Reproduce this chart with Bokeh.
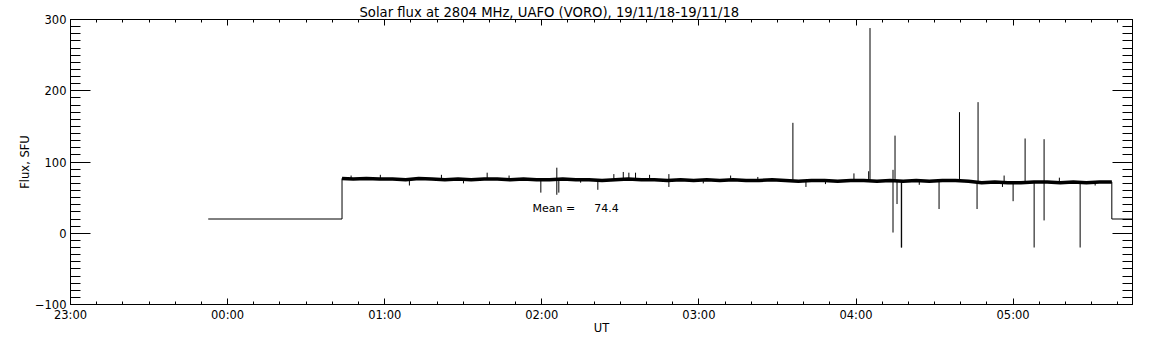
import pandas as pd
from bokeh.plotting import figure
from bokeh.models import (Range1d, FixedTicker, DatetimeTickFormatter, LinearAxis,
                          DatetimeAxis, CustomJSTickFormatter, Label, ColumnDataSource, Title)
from bokeh.embed import file_html
from bokeh.resources import INLINE

# ---------------- data ----------------
TITLE = "Solar flux at 2804 MHz, UAFO (VORO),  19/11/18-19/11/18"
X_LABEL = "UT"
Y_LABEL = "Flux, SFU"
X_START = "23:00:00"
X_END = "05:45:36"
X_TICKS = ["23:00", "00:00", "01:00", "02:00", "03:00", "04:00", "05:00"]
Y_TICKS = [-100, 0, 100, 200, 300]
MEAN_WORD = "Mean ="
MEAN_VALUE = "74.4"

trace_times = [
    "23:52:36", "00:43:42", "00:43:42", "00:48", "00:53", "00:58", "01:03", "01:08",
    "01:13", "01:18", "01:23", "01:28", "01:33", "01:38", "01:43", "01:48", "01:53",
    "01:58", "02:03", "02:08", "02:13", "02:18", "02:23", "02:28", "02:33", "02:38",
    "02:43", "02:48", "02:53", "02:58", "03:03", "03:08", "03:13", "03:18", "03:23",
    "03:28", "03:33", "03:38", "03:43", "03:48", "03:53", "03:58", "04:03", "04:08",
    "04:13", "04:18", "04:23", "04:28", "04:33", "04:38", "04:43", "04:48", "04:53",
    "04:58", "05:03", "05:08", "05:13", "05:18", "05:23", "05:28", "05:33", "05:37:42",
    "05:37:42", "05:45:36",
]
trace_flux = [
    20, 20, 77, 76, 77, 76, 76, 75,
    77, 76, 75, 76, 75, 76, 76, 75, 76,
    75, 75, 76, 75, 75, 74, 75, 76, 75,
    75, 74, 75, 74, 75, 74, 75, 74, 74,
    75, 74, 73, 74, 74, 73, 74, 74, 73,
    74, 73, 74, 73, 74, 74, 73, 71, 72,
    71, 71, 72, 72, 71, 72, 71, 72, 72,
    20, 20,
]

spike_times = [
    "03:35:54", "04:05:21", "04:14:54", "04:14:08", "04:15:40", "04:17:18", "04:17:26",
    "04:31:43", "04:39:31", "04:46:37", "04:46:14", "04:56:34", "05:00:00", "05:04:35",
    "05:08:02", "05:11:50", "05:25:36",
    "03:59:13", "04:04:50", "03:40:53", "04:55:56", "01:59:38", "02:05:44", "02:06:30",
    "02:21:24", "02:31:07", "02:48:32", "03:12:07", "01:09:26", "01:39:08", "02:27:31",
    "02:33:15", "02:35:48", "00:47:10", "00:58:20", "01:21:40", "01:30:05", "01:47:30",
    "02:14:50", "02:41:10", "03:01:40", "03:22:30", "03:48:20", "04:24:10", "05:17:40",
    "05:31:20",
]
spike_low = [
    75, 74, 74, 1, 41, -20, -20,
    34, 74, 73, 34, 72, 45, 72,
    -20, 18, -20,
    74, 74, 65, 65, 57, 54, 57,
    61, 75, 65, 75, 67, 75, 75,
    75, 75, 76, 76, 75, 70, 75,
    71, 75, 70, 74, 69, 68, 72,
    67,
]
spike_high = [
    155, 288, 137, 89, 74, 74, 74,
    74, 170, 184, 73, 81, 72, 133,
    72, 132, 72,
    84, 87, 74, 72, 75, 92, 75,
    75, 86, 83, 81, 75, 85, 83,
    85, 85, 81, 82, 82, 75, 81,
    75, 82, 74, 79, 74, 74, 78,
    72,
]


def to_ms(s):
    parts = s.split(":")
    if len(parts) == 2:
        s = s + ":00"
    day = "2018-11-18" if int(parts[0]) >= 23 else "2018-11-19"
    return pd.Timestamp(f"{day} {s}").value / 1e6


FONT = "DejaVu Sans"
FS = "11.5px"

x0, x1 = to_ms(X_START), to_ms(X_END)
x_major = [to_ms(t) for t in X_TICKS]
x_minor = [x0 + i * 600000 for i in range(int((x1 - x0) // 600000) + 1)]
y_minor = list(range(-100, 301, 10))

p = figure(width=1152, height=345, x_axis_type="datetime",
           x_range=Range1d(x0, x1), y_range=Range1d(-100, 300),
           output_backend="svg", toolbar_location=None,
           min_border_left=70, min_border_right=20, min_border_top=19, min_border_bottom=41)
p.grid.visible = False
p.outline_line_color = "black"
p.outline_line_width = 1
p.background_fill_color = "white"
p.border_fill_color = "white"

fmt = DatetimeTickFormatter(hours="%H:%M", hourmin="%H:%M", minutes="%H:%M",
                            minsec="%H:%M", days="%H:%M", seconds="%H:%M")
xticker = FixedTicker(ticks=x_major, minor_ticks=x_minor)
yticker = FixedTicker(ticks=Y_TICKS, minor_ticks=y_minor)
blank = CustomJSTickFormatter(code="return ''")


def style_x(ax):
    ax.ticker = xticker
    ax.major_tick_in = 6
    ax.major_tick_out = 0
    ax.minor_tick_in = 3
    ax.minor_tick_out = 0
    ax.axis_line_color = "black"
    ax.major_tick_line_color = "black"
    ax.minor_tick_line_color = "black"


def style_y(ax):
    ax.ticker = yticker
    ax.major_tick_in = 20
    ax.major_tick_out = 0
    ax.minor_tick_in = 10
    ax.minor_tick_out = 0
    ax.axis_line_color = "black"
    ax.major_tick_line_color = "black"
    ax.minor_tick_line_color = "black"


xa = p.xaxis[0]
style_x(xa)
xa.formatter = fmt
xa.major_label_standoff = 3
xa.major_label_text_font = FONT
xa.major_label_text_font_size = FS
xa.major_label_text_color = "black"
xa.axis_label = X_LABEL
xa.axis_label_text_font = FONT
xa.axis_label_text_font_size = FS
xa.axis_label_text_font_style = "normal"
xa.axis_label_text_color = "black"
xa.axis_label_standoff = -4

ya = p.yaxis[0]
style_y(ya)
ya.major_label_standoff = 4
ya.major_label_text_font = FONT
ya.major_label_text_font_size = FS
ya.major_label_text_color = "black"
ya.axis_label = Y_LABEL
ya.axis_label_text_font = FONT
ya.axis_label_text_font_size = FS
ya.axis_label_text_font_style = "normal"
ya.axis_label_text_color = "black"
ya.axis_label_standoff = 0

top = DatetimeAxis(formatter=blank, major_label_standoff=0)
style_x(top)
p.add_layout(top, "above")
right = LinearAxis(formatter=blank, major_label_standoff=0)
style_y(right)
p.add_layout(right, "right")

p.add_layout(Title(text=TITLE, align="left", offset=289, standoff=0,
                   text_font=FONT, text_font_size="13.2px", text_font_style="normal",
                   text_color="black"), "above")

# trace
tx = [to_ms(t) for t in trace_times]
p.line(tx, trace_flux, line_color="black", line_width=1)
p.line(tx[2:-2], trace_flux[2:-2], line_color="black", line_width=3.5)

# spikes
sx = [to_ms(t) for t in spike_times]
src = ColumnDataSource(dict(x=sx, y0=spike_low, y1=spike_high))
p.segment(x0="x", y0="y0", x1="x", y1="y1", source=src, line_color="black", line_width=1)

p.add_layout(Label(x=to_ms("01:56:26"), y=35, text=MEAN_WORD, text_font=FONT,
                   text_font_size="11px", text_baseline="middle", text_align="left",
                   text_color="black"))
p.add_layout(Label(x=to_ms("02:20:00"), y=35, text=MEAN_VALUE, text_font=FONT,
                   text_font_size="11px", text_baseline="middle", text_align="left",
                   text_color="black"))

open("out.html", "w").write(file_html(p, INLINE))
